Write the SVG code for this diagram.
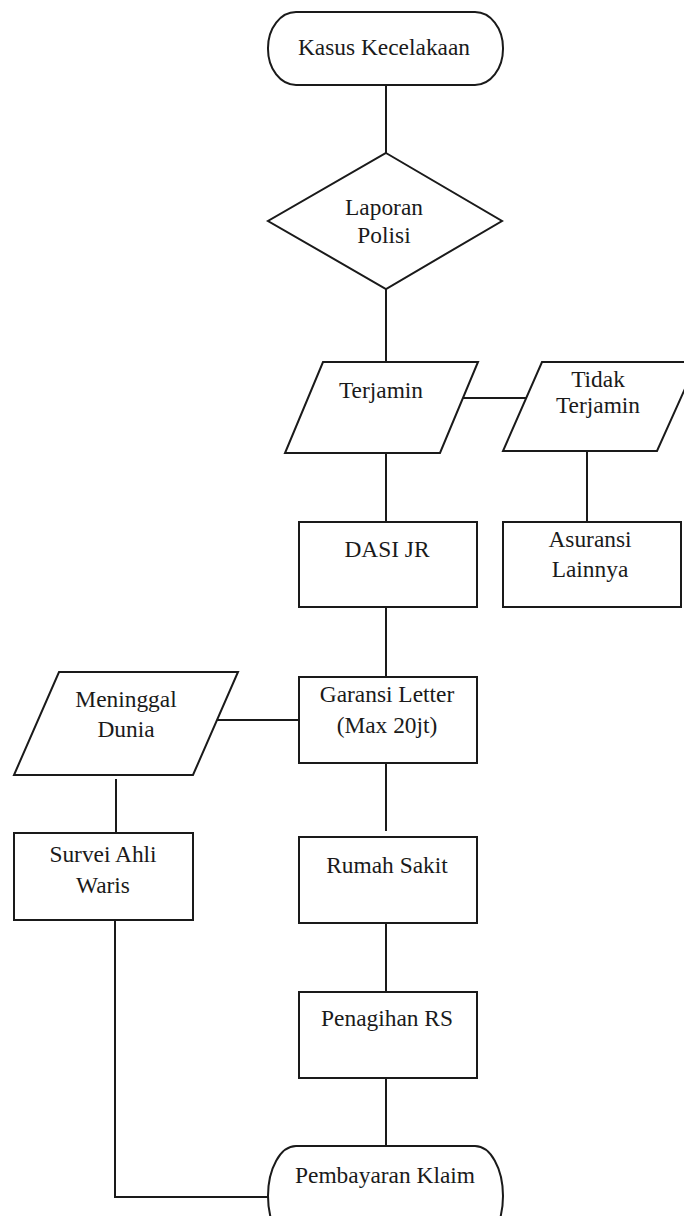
<svg xmlns="http://www.w3.org/2000/svg" width="684" height="1216" viewBox="0 0 684 1216">
<style>
.s{fill:#fff;stroke:#1a1a1a;stroke-width:2}
.c{fill:none;stroke:#1a1a1a;stroke-width:2}
text{font-family:'Liberation Serif','Times New Roman',serif;font-size:23.4px;fill:#1a1a1a;text-anchor:middle}
</style>
<rect width="684" height="1216" fill="#fff"/>
<g id="connectors">
<path class="c" d="M386 85V153"/>
<path class="c" d="M386 289V362"/>
<path class="c" d="M463 398H526"/>
<path class="c" d="M386 453V522"/>
<path class="c" d="M587 451V522"/>
<path class="c" d="M386 607V677"/>
<path class="c" d="M217 720H299"/>
<path class="c" d="M386 763V831"/>
<path class="c" d="M116 779V833"/>
<path class="c" d="M386 923V992"/>
<path class="c" d="M386 1078V1146"/>
<path class="c" d="M115 920V1197H268"/>
</g>
<g id="kasus">
<rect class="s" x="268" y="12" width="235" height="73" rx="28" ry="36"/>
<text x="384" y="55">Kasus Kecelakaan</text>
</g>
<g id="laporan">
<polygon class="s" points="386,153 502,221 386,289 268,221"/>
<text x="384" y="215">Laporan</text>
<text x="384" y="243">Polisi</text>
</g>
<g id="terjamin">
<polygon class="s" points="323,362 478,362 440,453 285,453"/>
<text x="381" y="398">Terjamin</text>
</g>
<g id="tidak-terjamin">
<polygon class="s" points="542,362 697,362 657,451 503,451"/>
<text x="598" y="387">Tidak</text>
<text x="598" y="413">Terjamin</text>
</g>
<g id="dasi-jr">
<rect class="s" x="299" y="522" width="178" height="85"/>
<text x="387" y="557">DASI JR</text>
</g>
<g id="asuransi">
<rect class="s" x="503" y="522" width="178" height="85"/>
<text x="590" y="547">Asuransi</text>
<text x="590" y="577">Lainnya</text>
</g>
<g id="garansi">
<rect class="s" x="299" y="677" width="178" height="86"/>
<text x="387" y="702">Garansi Letter</text>
<text x="387" y="733">(Max 20jt)</text>
</g>
<g id="meninggal">
<polygon class="s" points="59,672 238,672 193,775 14,775"/>
<text x="126" y="707">Meninggal</text>
<text x="126" y="737">Dunia</text>
</g>
<g id="survei">
<rect class="s" x="14" y="833" width="179" height="87"/>
<text x="103" y="862">Survei Ahli</text>
<text x="103" y="893">Waris</text>
</g>
<g id="rumah-sakit">
<rect class="s" x="299" y="837" width="178" height="86"/>
<text x="387" y="873">Rumah Sakit</text>
</g>
<g id="penagihan">
<rect class="s" x="299" y="992" width="178" height="86"/>
<text x="387" y="1026">Penagihan RS</text>
</g>
<g id="pembayaran">
<rect class="s" x="268" y="1146" width="235" height="100" rx="28" ry="50"/>
<text x="385" y="1183">Pembayaran Klaim</text>
</g>
</svg>
